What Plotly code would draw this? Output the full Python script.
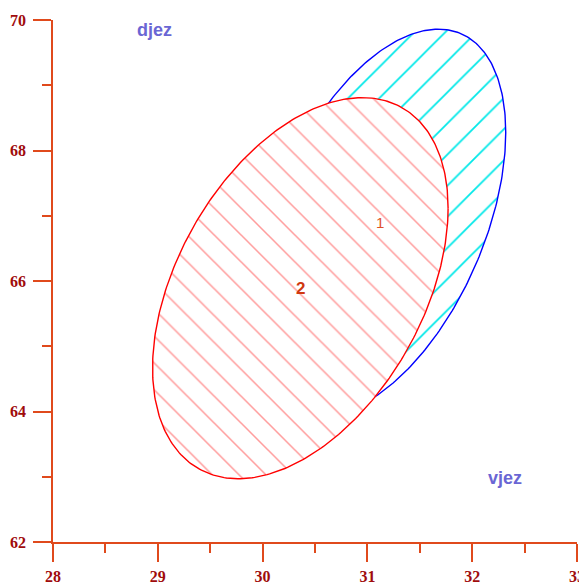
import numpy as np
import plotly.graph_objects as go

# ---- data ----
groups = ["1", "2"]
center_x = [31.12, 30.36]      # ellipse centres (x)
center_y = [66.90, 65.89]      # ellipse centres (y)
half_x = [1.20, 1.41]          # half extent along x
half_y = [2.96, 2.92]          # half extent along y
corr = [0.465, 0.42]           # x-y coupling (cos of phase shift)
line_colors = ["#0000ff", "#ff0000"]
hatch_colors = ["#00e8e8", "#ff9c9c"]
hatch_shapes = ["/", "\\"]
hatch_sizes = [22, 19]

x_ticks = [28, 29, 30, 31, 32, 33]
y_ticks = [62, 64, 66, 68, 70]
corner_labels = ["djez", "vjez"]
corner_x = [28.97, 32.31]
corner_y = [69.85, 62.98]

AX = "#e04a1c"
TXT = "#a00c0c"

fig = go.Figure()
t = np.linspace(0, 2 * np.pi, 361)
for i in range(len(groups)):
    d = np.arccos(corr[i])
    ex = center_x[i] + half_x[i] * np.cos(t)
    ey = center_y[i] + half_y[i] * np.cos(t - d)
    fig.add_trace(go.Scatter(
        x=ex, y=ey, mode="lines", fill="toself",
        line=dict(color=line_colors[i], width=1.4),
        fillcolor="white",
        fillpattern=dict(shape=hatch_shapes[i], fgcolor=hatch_colors[i],
                         bgcolor="white", fillmode="replace",
                         size=hatch_sizes[i], solidity=0.08),
        hoverinfo="skip", showlegend=False, cliponaxis=False))

annotations = [
    dict(x=center_x[0], y=center_y[0], text="1", showarrow=False,
         font=dict(family="Liberation Sans", size=15, color="#e05028")),
    dict(x=center_x[1], y=center_y[1], text="<b>2</b>", showarrow=False,
         font=dict(family="Liberation Sans", size=17, color="#d03810")),
]
for lab, cx, cy in zip(corner_labels, corner_x, corner_y):
    annotations.append(dict(x=cx, y=cy, text="<b>%s</b>" % lab, showarrow=False,
                            font=dict(family="Liberation Sans", size=18, color="#6a66d4")))

axis_common = dict(
    showline=True, linecolor=AX, linewidth=1.5, showgrid=False, zeroline=False,
    ticks="outside", ticklen=18, tickwidth=1.5, tickcolor=AX,
    tickfont=dict(family="Liberation Serif", size=16, color=TXT, weight="bold"),
    mirror=False, automargin=False,
)
fig.update_layout(
    width=579, height=577,
    margin=dict(l=45, r=10, t=12, b=43),
    paper_bgcolor="white", plot_bgcolor="white",
    xaxis=dict(range=[28, 33], tickvals=x_ticks, ticklabelstandoff=1,
               minor=dict(dtick=0.5, ticklen=9, tickwidth=1.5, tickcolor=AX, ticks="outside"),
               **axis_common),
    yaxis=dict(range=[62, 70], tickvals=y_ticks, ticklabelstandoff=4,
               minor=dict(dtick=1, ticklen=9, tickwidth=1.5, tickcolor=AX, ticks="outside"),
               **axis_common),
    annotations=annotations,
)
fig.write_html("out.html")
